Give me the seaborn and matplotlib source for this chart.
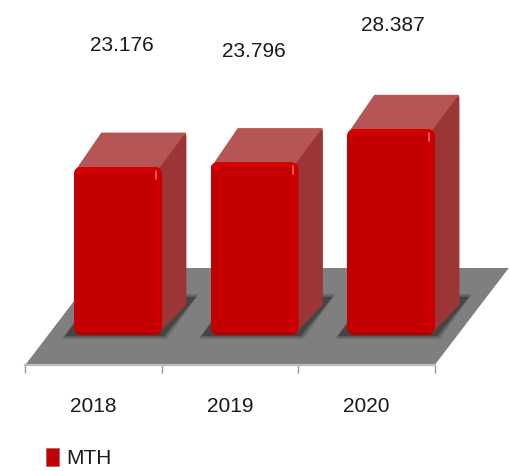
import numpy as np
import pandas as pd
import seaborn as sns
import matplotlib.pyplot as plt
from matplotlib.patches import FancyBboxPatch, Polygon

# data
years = ['2018', '2019', '2020']
values = [23.176, 23.796, 28.387]
value_labels = ['23.176', '23.796', '28.387']
series_name = 'MTH'

# scale of the picture: pixels per category / per value unit
px_x = 136.5
px_y = 7.25
ux = 1 / px_x
uy = 1 / px_y

# where the value labels sit, relative to category and bar top
label_dx = [28.5, 24, 26.5]
label_gaps = [20.96, 19.5, 18.5]

sns.set_theme(style='white')
plt.rcParams['font.family'] = ['Liberation Sans', 'DejaVu Sans']
plt.rcParams['text.color'] = '#1a1a1a'
plt.rcParams['xtick.color'] = '#1a1a1a'

fig = plt.figure(figsize=(5.09, 4.71), dpi=100)
# axes bottom is the front edge of the floor, 365 px down
ax = fig.add_axes([0, 106 / 471, 1, 365 / 471])

df = pd.DataFrame({'year': years, 'value': values})
sns.barplot(data=df, x='year', y='value', color='#c40000', saturation=1,
            width=88 * ux, linewidth=0, ax=ax, legend=False, zorder=6)

ax.set_xlim(-93.5 * ux, (509 - 93.5) * ux)
ax.set_ylim(0, 365 * uy)
ax.set_xlabel('')
ax.set_ylabel('')
ax.set_yticks([])
ax.patch.set_alpha(0)

# floor of the 3d box
n = len(years)
floor_dx = 74 * ux
floor_dy = 97 * uy
left, right = -0.5, n - 0.5
ax.add_patch(Polygon([(left, 0), (right, 0), (right + floor_dx, floor_dy), (left + floor_dx, floor_dy)],
                     closed=True, fc='#7f7f7f', ec='none', zorder=1))

# bars stand set back on the floor
shift_x = 24.5 * ux
shift_y = 30 * uy
depth_x = 25 * ux
depth_y = 35 * uy
corner = 8 * ux

for bar in list(ax.patches):
    if not isinstance(bar, plt.Rectangle):
        continue
    x0 = bar.get_x() + shift_x
    w = bar.get_width()
    h = bar.get_height()
    y0 = shift_y
    x1 = x0 + w
    y1 = y0 + h
    bar.set_x(x0)
    bar.set_y(y0)

    # soft shadow on the floor
    for grow, alpha in [(3, 0.2), (1.5, 0.3), (0, 0.55)]:
        g = grow * ux
        gy = grow * uy
        ax.add_patch(Polygon([(x0 - 9 * ux - g, y0 - 1 * uy - gy), (x1 + 2 * ux + g, y0 - 1 * uy - gy),
                              (x1 + 34 * ux + g, y0 + 38 * uy + gy), (x0 + 20 * ux, y0 + 38 * uy + gy)],
                             closed=True, fc='#333333', ec='none', alpha=alpha, zorder=2))

    # top and side faces
    ax.add_patch(Polygon([(x0 + 2 * ux, y1 - 5 * uy), (x1 - 2 * ux, y1 - 5 * uy),
                          (x1 + depth_x - 2 * ux, y1 + depth_y - 2 * uy), (x0 + depth_x + 3 * ux, y1 + depth_y - 2 * uy)],
                         closed=True, fc='#b55555', ec='#b55555', lw=2, joinstyle='round', zorder=4))
    ax.add_patch(Polygon([(x1 - 4 * ux, y1 - 5 * uy), (x1 + depth_x - 2 * ux, y1 + depth_y - 4 * uy),
                          (x1 + depth_x - 2 * ux, y0 + depth_y - 4 * uy), (x1 - 4 * ux, y0 + 3 * uy)],
                         closed=True, fc='#9c3535', ec='#9c3535', lw=2, joinstyle='round', zorder=5))

    # rounded front, with lit edges
    rounded = FancyBboxPatch((x0, y0), w, h, boxstyle=f'round,pad=0,rounding_size={corner}',
                             mutation_aspect=px_x * uy, fc='none', ec='none', transform=ax.transData)
    ax.add_patch(rounded)
    bar.set_clip_path(rounded)
    for strip_px, strip_col in [(7, '#cc0000'), (4, '#d60000')]:
        top_strip = ax.fill_between([x0, x1], y1 - strip_px * uy, y1, color=strip_col, lw=0, zorder=7)
        top_strip.set_clip_path(rounded)
    side_strip = ax.fill_between([x1 - 7 * ux, x1 - 2 * ux], y0, y1, color='#d00000', lw=0, zorder=7)
    side_strip.set_clip_path(rounded)
    ax.plot([x1 - 6 * ux, x1 - 6 * ux], [y1 - 12 * uy, y1 - 4 * uy], color='#ee6a5c', lw=1.2, zorder=8)
    low_strip = ax.fill_between([x0, x1], y0, y0 + 3 * uy, color='#b80000', lw=0, zorder=7)
    low_strip.set_clip_path(rounded)

# value labels, placed as in the picture (gap above the bar differs)
for i, (v, txt) in enumerate(zip(values, value_labels)):
    ax.text(i + label_dx[i] * ux, v + label_gaps[i], txt, ha='center', va='center', fontsize=15)

# axis
for name in ['top', 'left', 'right']:
    ax.spines[name].set_visible(False)
ax.spines['bottom'].set_color('#bdbdbd')
ax.spines['bottom'].set_linewidth(1.6)
ax.spines['bottom'].set_bounds(left, right)
ax.set_xticks(range(n))
ax.set_xticklabels(years, fontsize=15)
ax.set_xticks(np.arange(n + 1) - 0.5, minor=True)
ax.tick_params(axis='x', which='major', length=0, pad=23, bottom=True)
ax.tick_params(axis='x', which='minor', length=6, width=1, color='#9a9a9a', bottom=True)
ax.grid(False)

# legend
handle = plt.Rectangle((0, 0), 1, 1, fc='#c40000', ec='#8c6a6a', lw=0.5)
ax.legend([handle], [series_name], loc='lower left', bbox_to_anchor=(46 / 509, 3 / 471),
          bbox_transform=fig.transFigure, frameon=False, fontsize=15, handlelength=0.6,
          handleheight=0.95, handletextpad=0.35, borderpad=0, borderaxespad=0)

fig.savefig('out.png', dpi=100)
